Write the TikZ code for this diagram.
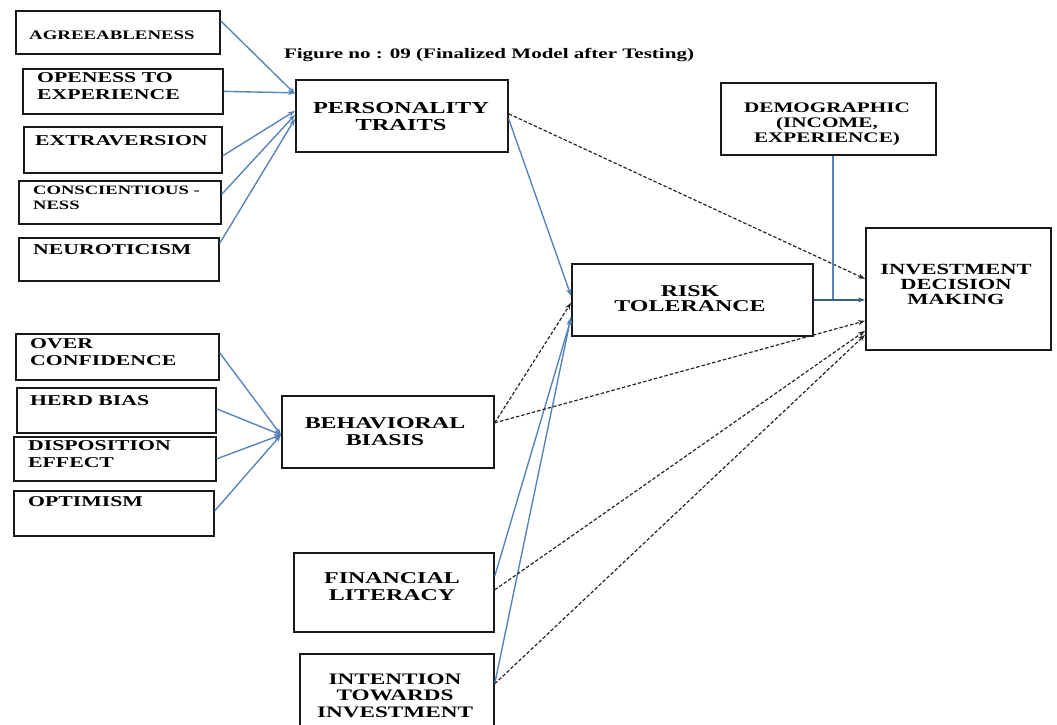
\documentclass[tikz,border=0pt]{standalone}
\usepackage{fontspec}
\setmainfont[FakeStretch=1.45]{Liberation Serif}
\usetikzlibrary{arrows.meta}
\definecolor{lnblue}{RGB}{84,130,185}
\definecolor{boxline}{RGB}{25,25,25}
\newcommand{\fsz}[2]{\fontsize{#1}{#2}\selectfont\bfseries}
\begin{document}
\begin{tikzpicture}[x=1pt,y=-1pt,
  box/.style={draw=boxline, line width=1.7pt, fill=none, inner sep=0pt, anchor=north west},
  lbl/.style={inner sep=0pt, text=black, align=#1},
  lbl/.default=left,
  bluearr/.style={draw=lnblue, line width=1.35pt, -{Stealth[length=7pt,width=5pt]}},
  dasharr/.style={draw=black!85, line width=1.2pt, dash pattern=on 3.5pt off 2pt, -{Stealth[length=7pt,width=5pt,fill=black]}}
]
\useasboundingbox (0,0) rectangle (1057,724);
\clip (0,0) rectangle (1057,724);
\fill[white] (0,0) rectangle (1057,724);

% ---- boxes ----
\node[box, minimum width=204pt, minimum height=43pt] (agr) at (15,10) {};
\node[box, minimum width=200pt, minimum height=45pt] (ope) at (22,68) {};
\node[box, minimum width=198pt, minimum height=46pt] (ext) at (23,126) {};
\node[box, minimum width=202pt, minimum height=43pt] (con) at (18,180) {};
\node[box, minimum width=200pt, minimum height=43pt] (neu) at (18,237) {};

\node[box, minimum width=203pt, minimum height=46pt] (oc) at (15,333) {};
\node[box, minimum width=199pt, minimum height=45pt] (hb) at (16,387) {};
\node[box, minimum width=202pt, minimum height=44pt] (de) at (13,436) {};
\node[box, minimum width=200pt, minimum height=45pt] (opt) at (13,490) {};

\node[box, minimum width=212pt, minimum height=72pt] (pt) at (295,79) {};
\node[box, minimum width=241pt, minimum height=72pt] (rt) at (571,263) {};
\node[box, minimum width=185pt, minimum height=122pt] (idm) at (865,227) {};
\node[box, minimum width=215pt, minimum height=72pt] (demo) at (720,82) {};
\node[box, minimum width=212pt, minimum height=72pt] (bb) at (281,395) {};
\node[box, minimum width=200pt, minimum height=79pt] (fl) at (293,552) {};
\node[box, minimum width=194pt, minimum height=82pt] (iti) at (299,653) {};

% ---- labels ----
\node[lbl, anchor=center, font=\fsz{14.5}{15}] (title) at (489,55) {Figure no : 09 (Finalized Model after Testing)};

\node[lbl, anchor=west, font=\fsz{13}{15}] (agrT) at (29,35) {AGREEABLENESS};
\node[lbl, anchor=west, font=\fsz{15}{17}] (opeT) at (37,86.5) {OPENESS TO\\EXPERIENCE};
\node[lbl, anchor=west, font=\fsz{15}{17}] (extT) at (35,141) {EXTRAVERSION};
\node[lbl, anchor=west, font=\fsz{12.8}{15}] (conT) at (33,197.5) {CONSCIENTIOUS -\\NESS};
\node[lbl, anchor=west, font=\fsz{15}{17}] (neuT) at (33,250) {NEUROTICISM};

\node[lbl, anchor=west, font=\fsz{15}{17}] (ocT) at (30,352.5) {OVER\\CONFIDENCE};
\node[lbl, anchor=west, font=\fsz{15}{17}] (hbT) at (30,401) {HERD BIAS};
\node[lbl, anchor=west, font=\fsz{15}{17}] (deT) at (28,454.5) {DISPOSITION\\EFFECT};
\node[lbl, anchor=west, font=\fsz{15}{17}] (optT) at (28,502) {OPTIMISM};

\node[lbl=center, anchor=center, font=\fsz{16.8}{17}] (ptT) at (401,116.5) {PERSONALITY\\TRAITS};
\node[lbl=center, anchor=center, font=\fsz{16.5}{15.5}] (rtT) at (690,298.5) {RISK\\TOLERANCE};
\node[lbl=center, anchor=center, font=\fsz{15.5}{15}] (idmT) at (956,284) {INVESTMENT\\DECISION\\MAKING};
\node[lbl=center, anchor=center, font=\fsz{14.6}{15}] (demoT) at (827,124) {DEMOGRAPHIC\\(INCOME,\\EXPERIENCE)};
\node[lbl=center, anchor=center, font=\fsz{16.5}{17}] (bbT) at (385,431.5) {BEHAVIORAL\\BIASIS};
\node[lbl=center, anchor=center, font=\fsz{16.5}{17}] (flT) at (392,586.5) {FINANCIAL\\LITERACY};
\node[lbl=center, anchor=center, font=\fsz{16}{16.5}] (itiT) at (395,695.5) {INTENTION\\TOWARDS\\INVESTMENT};

% ---- blue connectors into personality traits ----
\draw[bluearr] ([yshift=11.5pt]agr.east) -- ([yshift=22pt]pt.west);
\draw[bluearr] (ope.east) -- ([yshift=23pt]pt.west);
\draw[bluearr] ([yshift=-6pt]ext.east) -- ([yshift=5pt]pt.west);
\draw[bluearr] ([yshift=8pt]con.east) -- ([yshift=1pt]pt.west);
\draw[bluearr] ([yshift=16pt]neu.east) -- ([yshift=-3pt]pt.west);

% ---- blue connectors into behavioral biasis ----
\draw[bluearr] ([yshift=4pt]oc.east) -- ([yshift=-3pt]bb.west);
\draw[bluearr] ([yshift=1.5pt]hb.east) -- ([yshift=-3pt]bb.west);
\draw[bluearr] (de.east) -- ([yshift=-3pt]bb.west);
\draw[bluearr] ([yshift=2.5pt]opt.east) -- ([yshift=-3pt]bb.west);

% ---- into risk tolerance ----
\draw[bluearr] ([yshift=-3pt]pt.east) -- ([yshift=4pt]rt.west);
\draw[dasharr] ([yshift=9pt]bb.east) -- ([yshift=-3pt]rt.west);
\draw[bluearr] ([yshift=16pt]fl.east) -- ([yshift=-19pt]rt.west);
\draw[bluearr] ([yshift=11pt]iti.east) -- ([yshift=-17pt]rt.west);

% ---- into investment decision making ----
\draw[dasharr] ([yshift=2pt]pt.east) -- ([yshift=10pt]idm.west);
\draw[draw=lnblue, line width=1.35pt] ([xshift=4.5pt]demo.south) -- ([xshift=4.5pt]demo.south |- rt.east);
\draw[draw=lnblue!70!black, line width=1.35pt, -{Stealth[length=7pt,width=5pt,fill=black!80]}] (rt.east) -- (idm.west |- rt.east);
\draw[dasharr] ([yshift=9pt]bb.east) -- ([yshift=-32pt]idm.west);
\draw[dasharr] ([yshift=2.5pt]fl.east) -- ([yshift=-42pt]idm.west);
\draw[dasharr] ([yshift=11pt]iti.east) -- ([yshift=-46pt]idm.west);
\end{tikzpicture}
\end{document}
